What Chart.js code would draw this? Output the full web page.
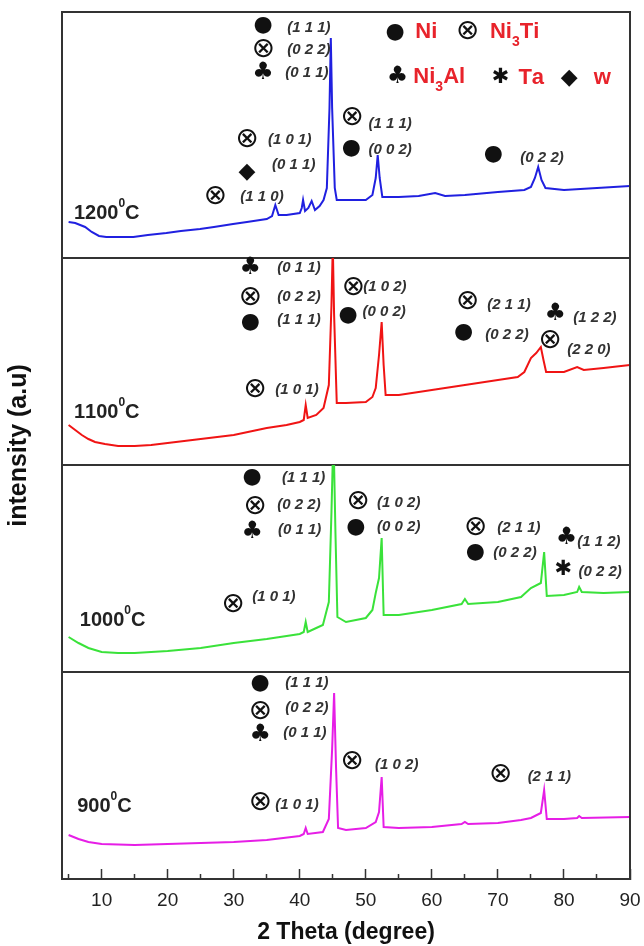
<!DOCTYPE html>
<html>
<head>
<meta charset="utf-8">
<script src="https://cdn.jsdelivr.net/npm/chart.js@4.4.1/dist/chart.umd.min.js"></script>
<style>
  body { margin: 0; background: #fff; }
</style>
</head>
<body>
<canvas id="xrd" width="644" height="946"></canvas>
<script>
// XRD patterns, 2 theta (deg) vs intensity (a.u.), one panel per temperature
const theta1200 = [5, 6, 7.5, 8.5, 9.6, 10.7, 12, 14.8, 17, 19.8, 22, 24.9, 27, 29.9, 32, 35, 35.8, 36.3, 36.8, 38, 40, 40.3, 40.5, 40.8, 41.3, 41.8, 42.3, 43, 43.6, 44.1, 44.5, 44.7, 44.9, 45.3, 45.6, 47, 50, 51, 51.5, 51.8, 52.1, 52.5, 55, 58, 60.5, 62, 65, 70, 74, 75, 75.6, 76.1, 76.6, 77.2, 80, 85, 90];
const int1200 = [36, 35, 31, 26, 22, 21, 21, 21, 23, 25, 27, 29, 31, 34, 36, 39, 42, 53, 43, 43, 45, 50, 58, 47, 50, 57, 48, 52, 58, 70, 150, 220, 150, 70, 58, 58, 58, 63, 80, 103, 80, 61, 61, 62, 65, 62, 63, 66, 68, 71, 80, 91, 78, 70, 68, 70, 72];

const theta1100 = [5, 6, 7, 8, 9, 10.5, 12.5, 15, 17.5, 20, 25, 30, 35, 38, 40, 40.6, 40.9, 41.2, 42.5, 43.6, 44.4, 44.8, 45.0, 45.2, 45.6, 47, 50, 51, 51.5, 52, 52.4, 52.7, 53, 55, 60, 65, 70, 73, 74, 75, 75.8, 76.5, 76.9, 77.3, 80, 82, 83, 86, 90];
const int1100 = [40, 35, 30, 26, 23, 21, 19, 19, 20, 22, 26, 30, 37, 40, 43, 45, 60, 47, 50, 57, 80, 160, 220, 150, 62, 62, 63, 68, 77, 110, 143, 100, 70, 70, 75, 80, 85, 88, 93, 107, 112, 118, 105, 93, 93, 98, 95, 97, 100];

const theta1000 = [5, 6.5, 8, 10, 12.5, 15, 20, 25, 30, 35, 40, 40.6, 40.9, 41.2, 42.5, 43.5, 44.4, 44.8, 45.1, 45.4, 45.7, 47, 50, 51, 51.5, 52, 52.4, 52.7, 55, 60, 64.5, 65, 65.5, 70, 73.5, 74, 75, 76.5, 77, 77.4, 80, 82, 82.3, 82.7, 86, 90];
const int1000 = [35, 29, 24, 20, 19, 19, 21, 24, 29, 33, 38, 40, 50, 40, 44, 47, 70, 160, 240, 140, 55, 50, 54, 62, 79, 94, 134, 57, 57, 62, 68, 73, 68, 70, 75, 78, 84, 89, 120, 76, 77, 80, 85, 80, 79, 80];

const theta900 = [5, 6.5, 8, 10, 15, 20, 25, 30, 35, 40, 40.6, 40.9, 41.2, 43.5, 44.4, 44.9, 45.2, 45.5, 45.8, 47, 50, 51.5, 52, 52.4, 52.7, 55, 60, 64.5, 65, 65.5, 70, 73.5, 75, 76.5, 77, 77.4, 80, 82, 82.3, 82.7, 90];
const int900 = [44, 40, 37, 35, 34, 35, 36, 37, 39, 43, 45, 51, 45, 47, 60, 130, 186, 110, 51, 49, 51, 57, 67, 102, 52, 51, 52, 55, 57, 55, 56, 59, 61, 66, 89, 60, 60, 61, 63, 61, 62];

const temps = ['1200^0C', '1100^0C', '1000^0C', '900^0C'];
const tempSpots = [[5.8, 45], [5.8, 53], [6.7, 52], [6.3, 73]];

// phase symbols [2theta, intensity, glyph] and reflections [2theta, intensity, hkl]
const marks1200 = [[34.45, 233, '●'], [34.45, 208, '⊗'], [34.45, 185, '♣'], [32.0, 118, '⊗'], [32.0, 86, '◆'], [27.2, 61, '⊗'], [47.9, 140, '⊗'], [47.8, 110, '●'], [69.3, 104, '●']];
const hkl1200 = [[38.1, 230, '(1 1 1)'], [38.1, 208, '(0 2 2)'], [37.8, 185, '(0 1 1)'], [35.2, 118, '(1 0 1)'], [35.8, 93, '(0 1 1)'], [31.0, 61, '(1 1 0)'], [50.4, 134, '(1 1 1)'], [50.4, 108, '(0 0 2)'], [73.4, 100, '(0 2 2)']];
const marks1100 = [[32.5, 197, '♣'], [32.5, 167, '⊗'], [32.5, 143, '●'], [33.2, 75, '⊗'], [48.1, 177, '⊗'], [47.3, 150, '●'], [65.4, 163, '⊗'], [64.8, 133, '●'], [78.7, 151, '♣'], [77.9, 124, '⊗']];
const hkl1100 = [[36.6, 197, '(0 1 1)'], [36.6, 168, '(0 2 2)'], [36.6, 145, '(1 1 1)'], [36.3, 75, '(1 0 1)'], [49.6, 178, '(1 0 2)'], [49.5, 153, '(0 0 2)'], [68.4, 160, '(2 1 1)'], [68.1, 130, '(0 2 2)'], [81.4, 147, '(1 2 2)'], [80.5, 115, '(2 2 0)']];
const marks1000 = [[32.8, 195, '●'], [33.2, 165, '⊗'], [32.8, 140, '♣'], [29.9, 67, '⊗'], [48.8, 170, '⊗'], [48.5, 145, '●'], [66.6, 144, '⊗'], [66.6, 120, '●'], [80.4, 134, '♣'], [79.9, 102, '✱']];
const hkl1000 = [[37.3, 194, '(1 1 1)'], [36.6, 167, '(0 2 2)'], [36.7, 142, '(0 1 1)'], [32.8, 75, '(1 0 1)'], [51.7, 169, '(1 0 2)'], [51.7, 145, '(0 0 2)'], [69.9, 144, '(2 1 1)'], [69.3, 119, '(0 2 2)'], [82.0, 130, '(1 1 2)'], [82.2, 100, '(0 2 2)']];
const marks900 = [[34.0, 196, '●'], [34.0, 167, '⊗'], [34.0, 144, '♣'], [34.0, 76, '⊗'], [47.9, 117, '⊗'], [70.4, 104, '⊗']];
const hkl900 = [[37.8, 196, '(1 1 1)'], [37.8, 171, '(0 2 2)'], [37.5, 146, '(0 1 1)'], [36.3, 74, '(1 0 1)'], [51.4, 114, '(1 0 2)'], [74.5, 102, '(2 1 1)']];

// key of phases, top panel
const phaseMarks = [[54.45, 226, '●'], [65.4, 226, '⊗'], [54.8, 181, '♣'], [70.4, 180, '✱'], [80.8, 180, '◆']];
const phaseNames = [[57.5, 226, 'Ni'], [68.8, 226, 'Ni_3Ti'], [57.2, 181, 'Ni_3Al'], [73.1, 180, 'Ta'], [84.5, 180, 'w']];

const panels = [
  { axis: 'y1200', top: 246, x: theta1200, y: int1200, color: '#2020e0', marks: marks1200, hkl: hkl1200 },
  { axis: 'y1100', top: 207, x: theta1100, y: int1100, color: '#f01414', marks: marks1100, hkl: hkl1100 },
  { axis: 'y1000', top: 207, x: theta1000, y: int1000, color: '#3ae23a', marks: marks1000, hkl: hkl1000 },
  { axis: 'y900', top: 207, x: theta900, y: int900, color: '#e61ee6', marks: marks900, hkl: hkl900 }
];

const glyphSize = { '●': 22, '⊗': 28, '♣': 24, '◆': 22, '✱': 21 };

// '_' = subscript, '^' = superscript for the next char
function drawRich(ctx, str, x, y, size, color) {
  let cx = x;
  ctx.fillStyle = color;
  ctx.textAlign = 'left';
  for (let i = 0; i < str.length; i++) {
    let ch = str[i], s = size, dy = 0;
    if (ch === '_' || ch === '^') {
      dy = ch === '_' ? size * 0.45 : -size * 0.45;
      s = Math.round(size * 0.62);
      ch = str[++i];
    }
    ctx.font = 'bold ' + s + 'px "Liberation Sans", Arial, sans-serif';
    ctx.fillText(ch, cx, y + dy);
    cx += ctx.measureText(ch).width;
  }
}

function drawGlyph(ctx, g, px, py) {
  ctx.font = glyphSize[g] + 'px "DejaVu Sans", sans-serif';
  ctx.textAlign = 'center';
  ctx.fillStyle = '#111';
  ctx.fillText(g, px, py);
}

const overlay = {
  id: 'overlay',
  afterDatasetsDraw(chart) {
    const { ctx, chartArea, scales } = chart;
    const xs = scales.x;
    ctx.save();
    ctx.strokeStyle = '#333';
    ctx.lineWidth = 2;
    ctx.strokeRect(chartArea.left, chartArea.top, chartArea.width, chartArea.height);
    ctx.textBaseline = 'middle';
    panels.forEach((p, i) => {
      const ys = scales[p.axis];
      p.marks.forEach(([t, v, g]) => drawGlyph(ctx, g, xs.getPixelForValue(t), ys.getPixelForValue(v)));
      ctx.font = 'italic bold 15px "Liberation Sans", Arial, sans-serif';
      ctx.fillStyle = '#333';
      ctx.textAlign = 'left';
      p.hkl.forEach(([t, v, s]) => ctx.fillText(s, xs.getPixelForValue(t), ys.getPixelForValue(v)));
      drawRich(ctx, temps[i], xs.getPixelForValue(tempSpots[i][0]), ys.getPixelForValue(tempSpots[i][1]), 20, '#222');
    });
    const ytop = scales.y1200;
    phaseMarks.forEach(([t, v, g]) => drawGlyph(ctx, g, xs.getPixelForValue(t), ytop.getPixelForValue(v)));
    phaseNames.forEach(([t, v, s]) => drawRich(ctx, s, xs.getPixelForValue(t), ytop.getPixelForValue(v), 22, '#e8232b'));
    ctx.restore();
  }
};

function panelAxis(p, weight) {
  return {
    type: 'linear',
    position: 'left',
    stack: 'panels',
    stackWeight: p.top,
    weight: weight,
    min: 0,
    max: p.top,
    afterBuildTicks: a => { a.ticks = [{ value: a.min }, { value: a.max }]; },
    ticks: { display: false },
    grid: { drawTicks: false, color: '#333', lineWidth: 2 },
    border: { color: '#333', width: 2 }
  };
}

const scales = {
  x: {
    type: 'linear',
    min: 4,
    max: 90,
    afterFit: a => { a.height = 67; a.paddingRight = 14; a.paddingLeft = 0; },
    ticks: {
      stepSize: 5,
      includeBounds: false,
      autoSkip: false,
      maxRotation: 0,
      padding: 20,
      color: '#222',
      font: { family: '"Liberation Sans", Arial, sans-serif', size: 19 },
      callback: v => (v % 10 === 0 ? v : '')
    },
    grid: {
      drawOnChartArea: false,
      tickLength: -10,
      tickColor: '#333',
      tickWidth: 1.5,
      tickBorderDash: c => (c.tick && c.tick.value % 10 ? [6, 30] : [])
    },
    border: { color: '#333', width: 2 },
    title: {
      display: true,
      text: '2 Theta (degree)',
      color: '#111',
      padding: { top: 0, bottom: 0 },
      font: { family: '"Liberation Sans", Arial, sans-serif', size: 23, weight: 'bold' }
    }
  },
  yTitle: {
    type: 'linear',
    position: 'left',
    weight: 10,
    afterFit: a => { a.width = 62; },
    ticks: { display: false },
    grid: { display: false },
    border: { display: false },
    title: {
      display: true,
      text: 'intensity (a.u)',
      color: '#111',
      padding: { top: 4, bottom: 0 },
      font: { family: '"Liberation Sans", Arial, sans-serif', size: 25, weight: 'bold' }
    }
  }
};
panels.forEach((p, i) => { scales[p.axis] = panelAxis(p, 4 - i); });

const xrdChart = new Chart(document.getElementById('xrd'), {
  type: 'line',
  data: {
    datasets: panels.map(p => ({
      label: p.axis,
      data: p.x.map((t, k) => ({ x: t, y: p.y[k] })),
      yAxisID: p.axis,
      borderColor: p.color,
      borderWidth: 2,
      pointRadius: 0,
      tension: 0
    }))
  },
  options: {
    responsive: false,
    animation: false,
    devicePixelRatio: 1,
    layout: { padding: { top: 12, right: 0, left: 0, bottom: 0 } },
    plugins: { legend: { display: false }, tooltip: { enabled: false } },
    scales: scales
  },
  plugins: [overlay]
});
</script>
</body>
</html>
